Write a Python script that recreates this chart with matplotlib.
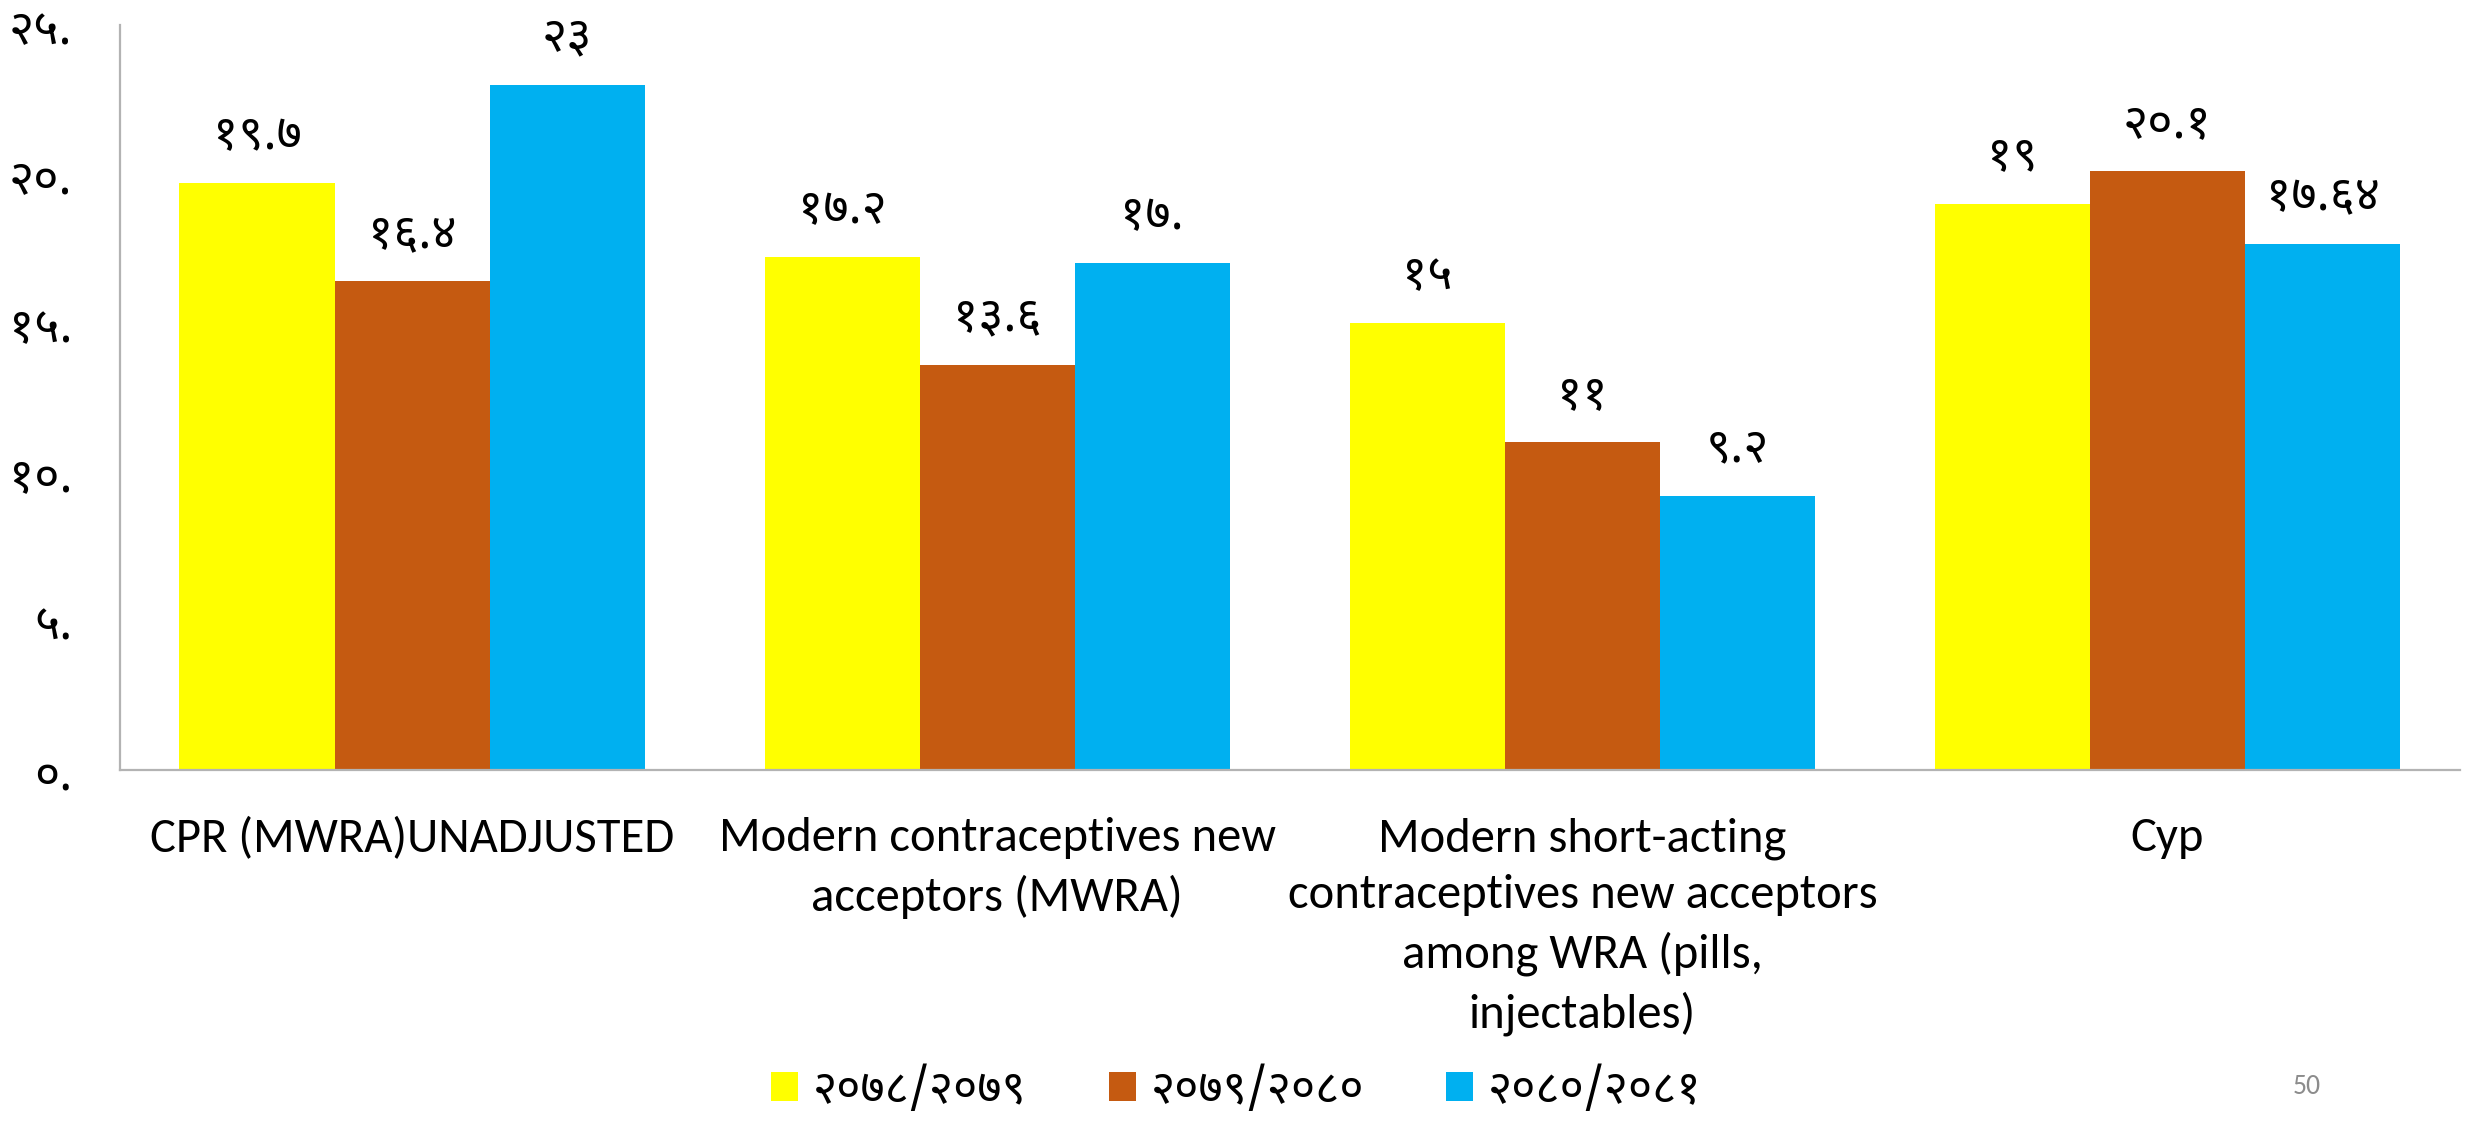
import matplotlib
matplotlib.use("Agg")
import matplotlib.pyplot as plt
from matplotlib import font_manager
from matplotlib.ft2font import FT2Font
from matplotlib.patches import Patch
import numpy as np

# ---------------- data ----------------
categories = [
    "CPR (MWRA)UNADJUSTED",
    "Modern contraceptives new\nacceptors (MWRA)",
    "Modern short-acting\ncontraceptives new acceptors\namong WRA (pills,\ninjectables)",
    "Cyp",
]
series_names = ["२०७८/२०७९", "२०७९/२०८०", "२०८०/२०८१"]
values_7879 = [19.7, 17.2, 15.0, 19.0]
values_7980 = [16.4, 13.6, 11.0, 20.1]
values_8081 = [23.0, 17.0, 9.2, 17.64]
labels_7879 = ["१९.७", "१७.२", "१५", "१९"]
labels_7980 = ["१६.४", "१३.६", "११", "२०.१"]
labels_8081 = ["२३", "१७.", "९.२", "१७.६४"]
ytick_values = [0, 5, 10, 15, 20, 25]
ytick_labels = ["०.", "५.", "१०.", "१५.", "२०.", "२५."]
page_number = "50"

colors = ["#FFFF00", "#C55A11", "#00B0F0"]

# ---------------- fonts ----------------
def covers(path, chars):
    try:
        f = FT2Font(path)
        cmap = f.get_charmap()
        return all(ord(c) in cmap for c in chars)
    except Exception:
        return False

names = {fe.name for fe in font_manager.fontManager.ttflist}
deva_font = None
for p in ["Noto Sans Devanagari", "Mangal", "Lohit Devanagari", "Kalimati", "Gargi", "FreeSans"]:
    if p in names:
        deva_font = p
        break
if deva_font is None:
    for fe in font_manager.fontManager.ttflist:
        if covers(fe.fname, "०१२३४५६७८९"):
            deva_font = fe.name
            break
deva_family = ([deva_font] if deva_font else []) + ["DejaVu Sans"]

if "Carlito" in names:
    latin_family = ["Carlito", "DejaVu Sans"]
    latin_size = 35
    latin_ls = 1.42
else:
    latin_family = ["Open Sans", "DejaVu Sans"]
    latin_size = 31.5
    latin_ls = 1.36

# ---------------- figure ----------------
W, H, DPI = 2468, 1121, 100
fig = plt.figure(figsize=(W / DPI, H / DPI), dpi=DPI)
ax = fig.add_axes([119.5 / W, (H - 770) / H, (2460 - 119.5) / W, (770 - 25) / H])

x = np.arange(len(categories))
bw = 0.265
all_vals = [values_7879, values_7980, values_8081]
all_labs = [labels_7879, labels_7980, labels_8081]
for i, (vals, labs) in enumerate(zip(all_vals, all_labs)):
    pos = x + (i - 1) * bw
    bars = ax.bar(pos, vals, width=bw, color=colors[i], edgecolor="none")
    for b, v, lab in zip(bars, vals, labs):
        ax.annotate(lab, (b.get_x() + b.get_width() / 2, v), xytext=(0, 34),
                    textcoords="offset points", ha="center", va="center",
                    fontsize=35, family=deva_family, color="black")

ax.set_xlim(-0.5, 3.5)
ax.set_ylim(0, 25)
ax.set_yticks(ytick_values)
ax.set_yticklabels(ytick_labels, family=deva_family, fontsize=35)
ax.set_xticks(x)
ax.set_xticklabels(categories, family=latin_family, fontsize=latin_size, linespacing=latin_ls)
ax.tick_params(axis="y", length=0, pad=34)
ax.tick_params(axis="x", length=0, pad=34)
for s in ["top", "right"]:
    ax.spines[s].set_visible(False)
for s in ["left", "bottom"]:
    ax.spines[s].set_color("#B3B3B3")
    ax.spines[s].set_linewidth(1.6)

handles = [Patch(facecolor=c, edgecolor="none") for c in colors]
fig.legend(handles, series_names, loc="center", bbox_to_anchor=(0.501, 1 - 1090 / H),
           ncol=3, frameon=False, prop={"family": deva_family, "size": 33.5},
           handlelength=0.58, handleheight=0.58, handletextpad=0.32, columnspacing=1.76)

fig.text(2307 / W, 1 - 1086 / H, page_number, ha="center", va="center",
         fontsize=20, color="#8C8C8C", family=latin_family)

fig.savefig("out.png", dpi=DPI)
